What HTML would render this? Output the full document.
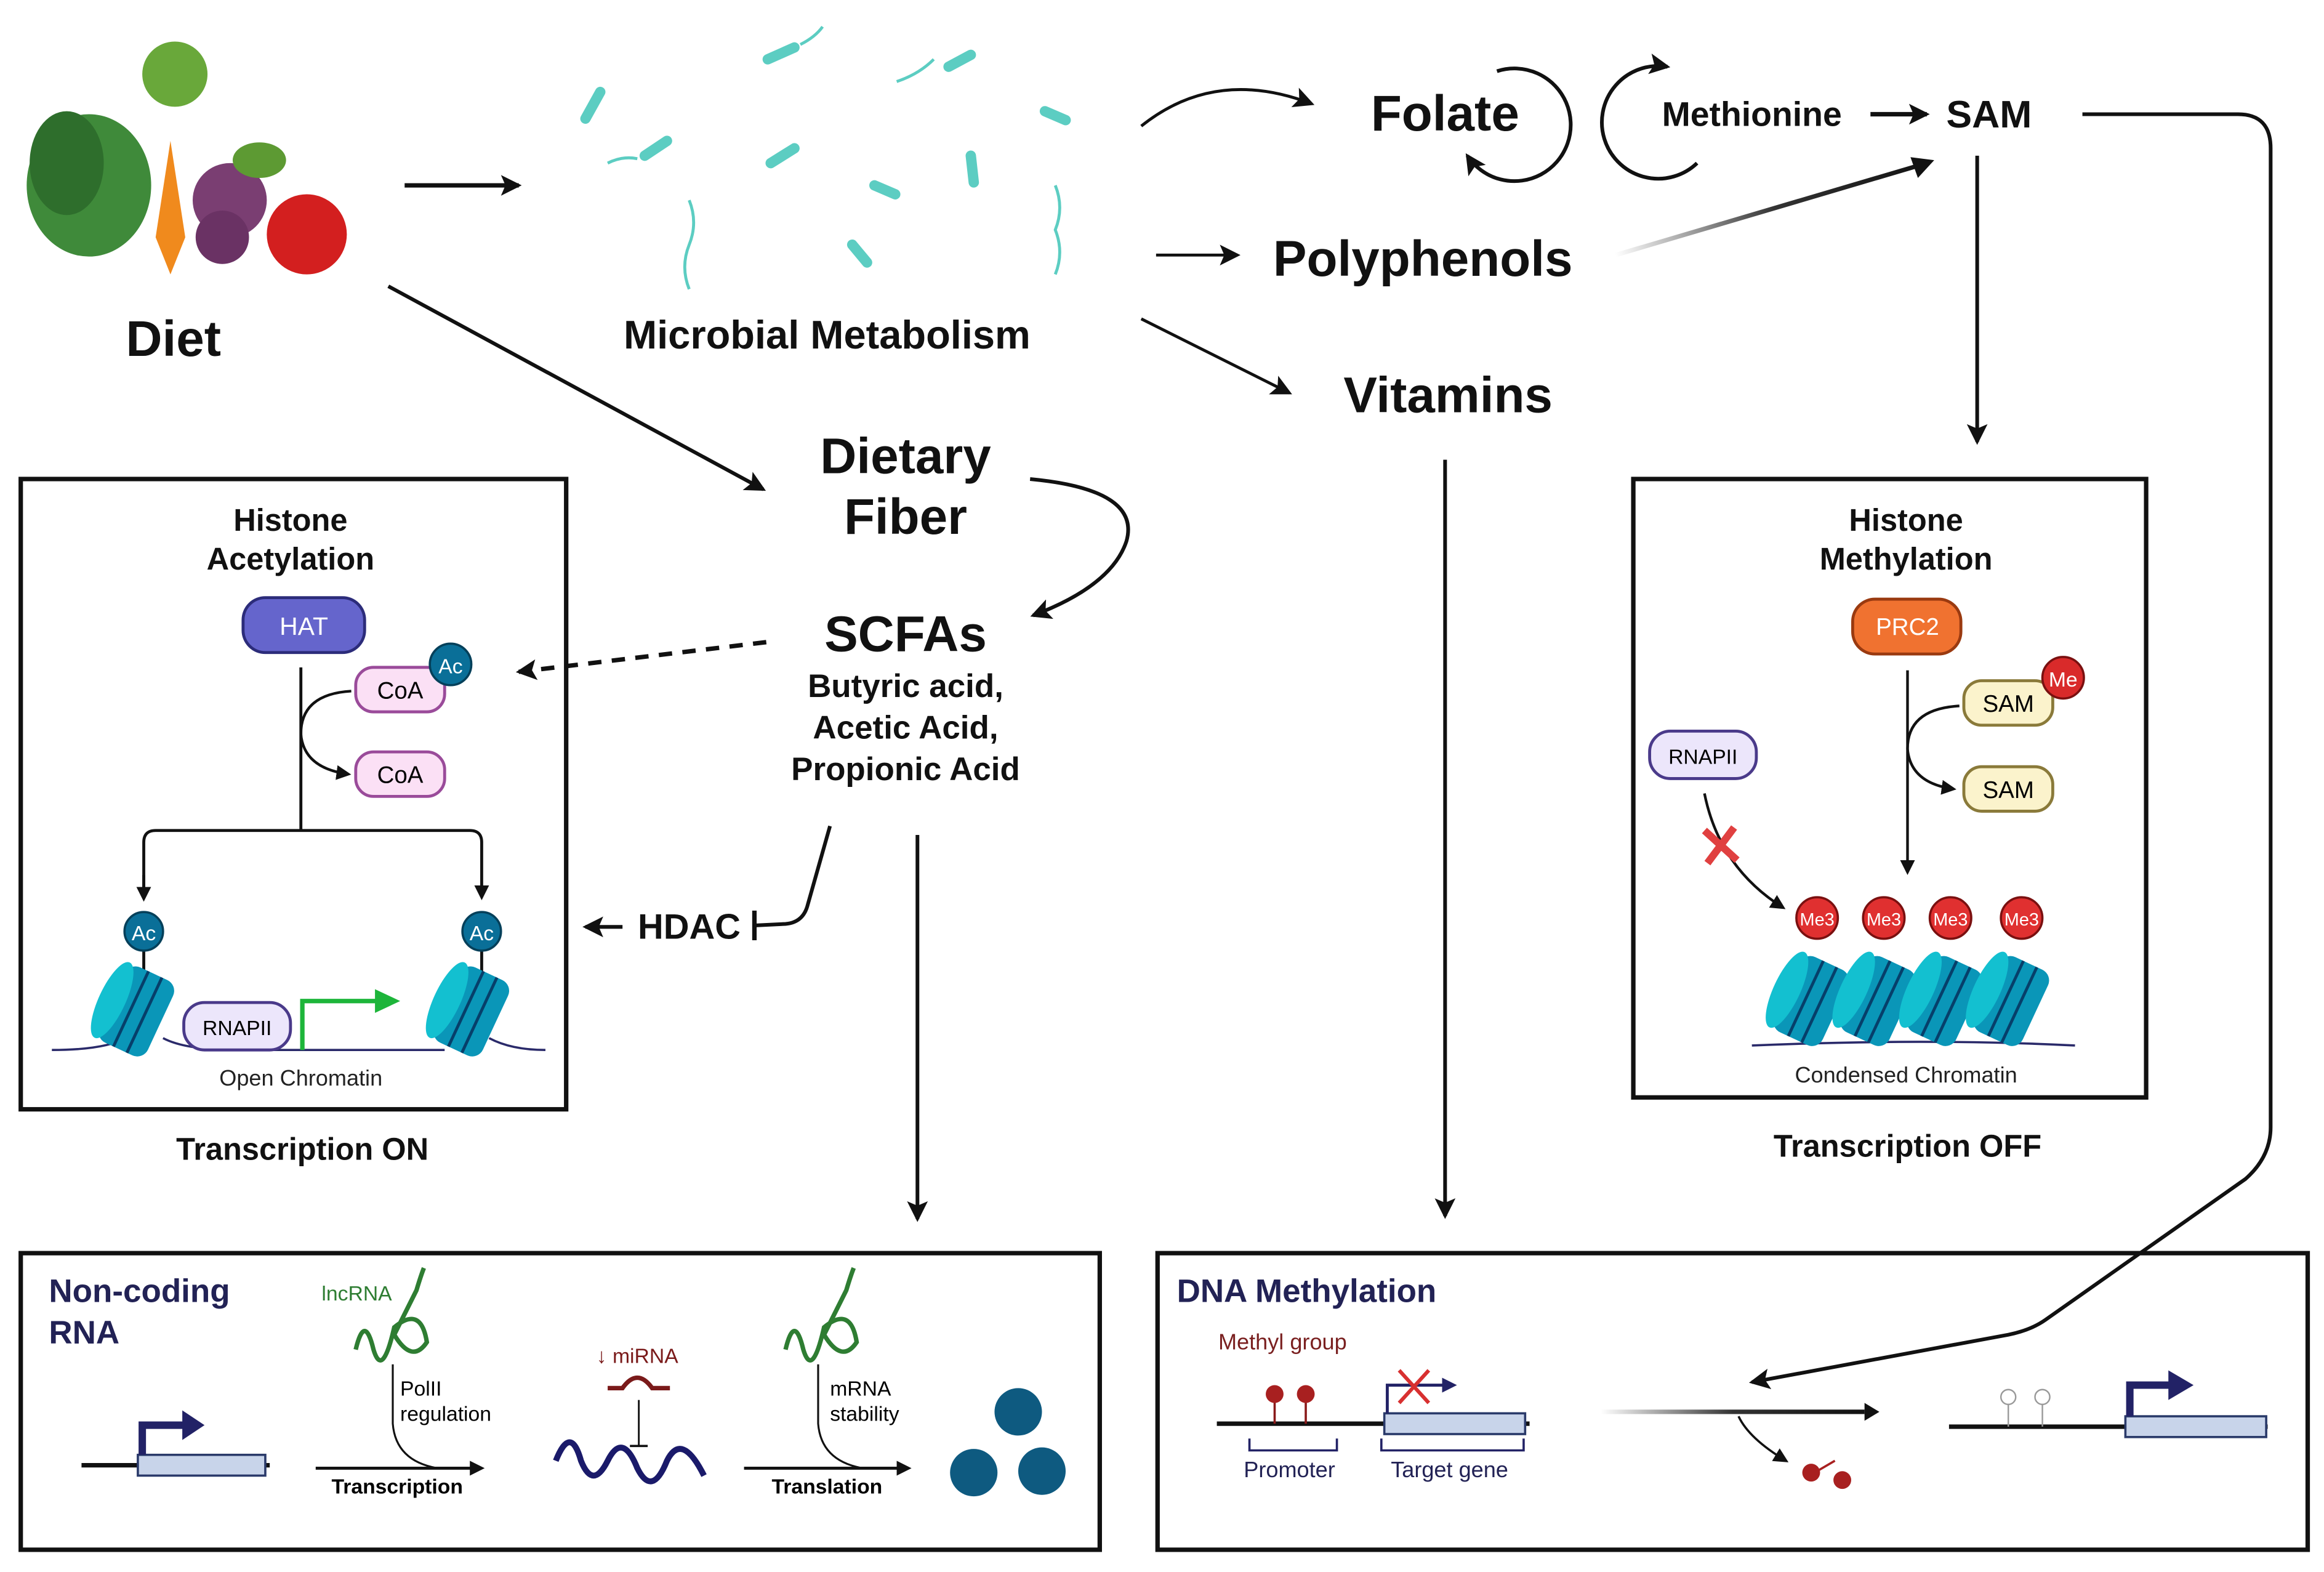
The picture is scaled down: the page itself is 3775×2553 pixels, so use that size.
<!DOCTYPE html>
<html><head><meta charset="utf-8"><style>
html,body{margin:0;padding:0;background:#fff}
svg{display:block}
text{font-family:"Liberation Sans",sans-serif}
.b{font-weight:bold;fill:#111}
</style></head><body>
<svg width="3775" height="2553" viewBox="0 0 1568 1060" preserveAspectRatio="none" xmlns="http://www.w3.org/2000/svg">
<defs>
<marker id="a" markerWidth="10" markerHeight="10" refX="8" refY="5" orient="auto" markerUnits="userSpaceOnUse"><path d="M0,0 L10,5 L0,10 Z" fill="#111"/></marker>
<marker id="as" markerWidth="14" markerHeight="14" refX="12" refY="7" orient="auto" markerUnits="userSpaceOnUse"><path d="M0,0 L14,7 L0,14 L3,7 Z" fill="#111"/></marker>
<linearGradient id="g1" gradientUnits="userSpaceOnUse" x1="1090" y1="172" x2="1305" y2="108"><stop offset="0" stop-color="#fff"/><stop offset="0.5" stop-color="#333"/><stop offset="1" stop-color="#111"/></linearGradient>
<linearGradient id="g2" gradientUnits="userSpaceOnUse" x1="1080" y1="952" x2="1258" y2="952"><stop offset="0" stop-color="#fff"/><stop offset="0.5" stop-color="#333"/><stop offset="1" stop-color="#111"/></linearGradient>
<g id="nuc"><g transform="rotate(25)"><rect x="-18" y="-28" width="36" height="56" rx="8" fill="#0a96b8"/><ellipse cx="-18" cy="0" rx="9" ry="28" fill="#13c0d0"/><line x1="-4" y1="-28" x2="-4" y2="28" stroke="#063f6a" stroke-width="2"/><line x1="6" y1="-28" x2="6" y2="28" stroke="#063f6a" stroke-width="2"/></g></g>
</defs>

<ellipse cx="60" cy="125" rx="42" ry="48" fill="#3f8a3a"/>
<ellipse cx="45" cy="110" rx="25" ry="35" fill="#2e6e2c"/>
<path d="M115,95 L105,160 L115,185 L125,160 Z" fill="#f08a1d"/>
<circle cx="118" cy="50" r="22" fill="#69a83a"/>
<circle cx="155" cy="135" r="25" fill="#7a3e72"/>
<circle cx="150" cy="160" r="18" fill="#6a3264"/>
<ellipse cx="175" cy="108" rx="18" ry="12" fill="#5d9a33"/>
<circle cx="207" cy="158" r="27" fill="#d31f1f"/>
<text x="117" y="240" class="b" font-size="34" text-anchor="middle">Diet</text>
<line x1="273" y1="125" x2="350" y2="125" stroke="#111" stroke-width="3" marker-end="url(#as)"/>

<g stroke="#5ccdc2" stroke-width="7" stroke-linecap="round" fill="none">
<path d="M395,80 l10,-18"/><path d="M435,105 l15,-10"/><path d="M518,40 l18,-8"/><path d="M520,110 l16,-10"/><path d="M590,125 l14,6"/><path d="M655,105 l2,18"/><path d="M705,75 l14,6"/><path d="M575,165 l10,12"/><path d="M640,45 l15,-8"/>
</g>
<g stroke="#5ccdc2" stroke-width="2" fill="none">
<path d="M465,135 q6,15 0,30 q-6,15 0,30"/><path d="M712,125 q6,15 0,30 q6,15 0,30"/><path d="M605,55 q15,-5 25,-15"/><path d="M540,30 q10,-5 15,-12"/><path d="M410,110 q10,-5 20,-3"/>
</g>
<text x="558" y="235" class="b" font-size="27" text-anchor="middle">Microbial Metabolism</text>

<path d="M770,85 Q820,45 885,70" stroke="#111" stroke-width="2" fill="none" marker-end="url(#as)"/>
<text x="975" y="88" class="b" font-size="34" text-anchor="middle">Folate</text>
<path d="M1010,48 A38,38 0 1 1 990,105" stroke="#111" stroke-width="2.5" fill="none" marker-end="url(#as)"/>
<path d="M1145,110 A38,38 0 1 1 1125,45" stroke="#111" stroke-width="2.5" fill="none" marker-end="url(#as)"/>
<text x="1182" y="85" class="b" font-size="23" text-anchor="middle">Methionine</text>
<line x1="1262" y1="77" x2="1300" y2="77" stroke="#111" stroke-width="3" marker-end="url(#as)"/>
<text x="1342" y="86" class="b" font-size="26" text-anchor="middle">SAM</text>
<path d="M1405,77 L1510,77 Q1532,77 1532,100 L1532,760 Q1532,780 1515,795 L1380,890 Q1370,897 1355,900 L1182,932" stroke="#111" stroke-width="2.5" fill="none" marker-end="url(#as)"/>
<line x1="780" y1="172" x2="835" y2="172" stroke="#111" stroke-width="2" marker-end="url(#as)"/>
<text x="960" y="186" class="b" font-size="34" text-anchor="middle">Polyphenols</text>
<line x1="1090" y1="172" x2="1300" y2="110" stroke="url(#g1)" stroke-width="3"/>
<path d="M1305,108 l-16,-2 l5,14 Z" fill="#111"/>
<line x1="770" y1="215" x2="870" y2="265" stroke="#111" stroke-width="2" marker-end="url(#as)"/>
<text x="977" y="278" class="b" font-size="34" text-anchor="middle">Vitamins</text>
<line x1="975" y1="310" x2="975" y2="820" stroke="#111" stroke-width="2.5" marker-end="url(#as)"/>
<line x1="1334" y1="105" x2="1334" y2="298" stroke="#111" stroke-width="2.5" marker-end="url(#as)"/>

<line x1="262" y1="193" x2="515" y2="330" stroke="#111" stroke-width="2.5" marker-end="url(#as)"/>
<text x="611" y="319" class="b" font-size="34" text-anchor="middle">Dietary</text>
<text x="611" y="360" class="b" font-size="34" text-anchor="middle">Fiber</text>
<path d="M695,323 Q770,330 760,365 Q750,395 697,415" stroke="#111" stroke-width="2.5" fill="none" marker-end="url(#as)"/>
<text x="611" y="439" class="b" font-size="34" text-anchor="middle">SCFAs</text>
<text x="611" y="470" class="b" font-size="22" text-anchor="middle">Butyric acid,</text>
<text x="611" y="498" class="b" font-size="22" text-anchor="middle">Acetic Acid,</text>
<text x="611" y="526" class="b" font-size="22" text-anchor="middle">Propionic Acid</text>
<line x1="517" y1="433" x2="350" y2="453" stroke="#111" stroke-width="3" stroke-dasharray="9,7" marker-end="url(#as)"/>
<path d="M560,557 L545,610 Q542,622 530,623 L510,624" stroke="#111" stroke-width="2.5" fill="none"/>
<line x1="509" y1="614" x2="509" y2="634" stroke="#111" stroke-width="3"/>
<text x="465" y="633" class="b" font-size="24" text-anchor="middle">HDAC</text>
<line x1="420" y1="625" x2="395" y2="625" stroke="#111" stroke-width="2.5" marker-end="url(#as)"/>
<line x1="619" y1="563" x2="619" y2="822" stroke="#111" stroke-width="2.5" marker-end="url(#as)"/>

<rect x="14" y="323" width="368" height="425" fill="none" stroke="#111" stroke-width="3"/>
<text x="196" y="358" class="b" font-size="21" text-anchor="middle">Histone</text>
<text x="196" y="384" class="b" font-size="21" text-anchor="middle">Acetylation</text>
<rect x="164" y="403" width="82" height="37" rx="15" fill="#6565cc" stroke="#2c2c7a" stroke-width="2"/>
<text x="205" y="428" font-size="17" fill="#fff" text-anchor="middle">HAT</text>
<line x1="203" y1="450" x2="203" y2="560" stroke="#111" stroke-width="2"/>
<rect x="240" y="450" width="60" height="30" rx="12" fill="#fbe0f5" stroke="#9a4b9a" stroke-width="2"/>
<text x="270" y="471" font-size="16" text-anchor="middle">CoA</text>
<circle cx="304" cy="448" r="14" fill="#0a6f98" stroke="#05405a" stroke-width="1.5"/>
<text x="304" y="454" font-size="14" fill="#fff" text-anchor="middle">Ac</text>
<rect x="240" y="507" width="60" height="30" rx="12" fill="#fbe0f5" stroke="#9a4b9a" stroke-width="2"/>
<text x="270" y="528" font-size="16" text-anchor="middle">CoA</text>
<path d="M237,466 Q203,468 203,495 Q205,518 235,522" stroke="#111" stroke-width="1.8" fill="none" marker-end="url(#a)"/>
<path d="M97,605 L97,568 Q97,560 105,560 L317,560 Q325,560 325,568 L325,605" stroke="#111" stroke-width="2" fill="none" marker-end="url(#a)"/>
<line x1="97" y1="590" x2="97" y2="606" stroke="#111" stroke-width="2" marker-end="url(#a)"/>
<path d="M35,708 Q70,708 85,700 M110,700 Q125,708 160,708 L300,708 M330,700 Q345,708 368,708" stroke="#2a2a6a" stroke-width="1.5" fill="none"/>
<line x1="97" y1="640" x2="97" y2="665" stroke="#111" stroke-width="2"/>
<line x1="325" y1="640" x2="325" y2="665" stroke="#111" stroke-width="2"/>
<use href="#nuc" x="92" y="682"/>
<use href="#nuc" x="318" y="682"/>
<circle cx="97" cy="628" r="13" fill="#0a6f98" stroke="#05405a" stroke-width="1.5"/>
<text x="97" y="634" font-size="14" fill="#fff" text-anchor="middle">Ac</text>
<circle cx="325" cy="628" r="13" fill="#0a6f98" stroke="#05405a" stroke-width="1.5"/>
<text x="325" y="634" font-size="14" fill="#fff" text-anchor="middle">Ac</text>
<rect x="124" y="676" width="72" height="32" rx="14" fill="#ece6fb" stroke="#4a3a8a" stroke-width="2"/>
<text x="160" y="698" font-size="14" text-anchor="middle">RNAPII</text>
<path d="M204,708 L204,675 L255,675" stroke="#1db53a" stroke-width="3" fill="none"/>
<path d="M253,667 L270,675 L253,683 Z" fill="#1db53a"/>
<text x="203" y="732" font-size="15" fill="#222" text-anchor="middle">Open Chromatin</text>
<text x="204" y="782" class="b" font-size="21" text-anchor="middle">Transcription ON</text>

<rect x="1102" y="323" width="346" height="417" fill="none" stroke="#111" stroke-width="3"/>
<text x="1286" y="358" class="b" font-size="21" text-anchor="middle">Histone</text>
<text x="1286" y="384" class="b" font-size="21" text-anchor="middle">Methylation</text>
<rect x="1250" y="404" width="73" height="37" rx="15" fill="#f07230" stroke="#9a3a10" stroke-width="2"/>
<text x="1287" y="428" font-size="16" fill="#fff" text-anchor="middle">PRC2</text>
<line x1="1287" y1="452" x2="1287" y2="588" stroke="#111" stroke-width="1.8" marker-end="url(#a)"/>
<rect x="1325" y="459" width="60" height="30" rx="12" fill="#fbf3cc" stroke="#8a7a3a" stroke-width="2"/>
<text x="1355" y="480" font-size="16" text-anchor="middle">SAM</text>
<circle cx="1392" cy="457" r="14" fill="#d92a2a" stroke="#7a1010" stroke-width="1.5"/>
<text x="1392" y="463" font-size="14" fill="#fff" text-anchor="middle">Me</text>
<rect x="1325" y="517" width="60" height="30" rx="12" fill="#fbf3cc" stroke="#8a7a3a" stroke-width="2"/>
<text x="1355" y="538" font-size="16" text-anchor="middle">SAM</text>
<path d="M1322,476 Q1287,478 1287,505 Q1289,528 1318,532" stroke="#111" stroke-width="1.8" fill="none" marker-end="url(#a)"/>
<rect x="1113" y="493" width="72" height="32" rx="14" fill="#ece6fb" stroke="#4a3a8a" stroke-width="2"/>
<text x="1149" y="515" font-size="14" text-anchor="middle">RNAPII</text>
<path d="M1150,535 Q1160,585 1203,612" stroke="#111" stroke-width="1.8" fill="none" marker-end="url(#a)"/>
<path d="M1150,560 L1172,580 M1170,558 L1152,582" stroke="#e04040" stroke-width="5"/>
<path d="M1182,705 Q1300,700 1400,705" stroke="#2a2a6a" stroke-width="1.5" fill="none"/>
<use href="#nuc" x="1222" y="675"/><use href="#nuc" x="1267" y="675"/><use href="#nuc" x="1312" y="675"/><use href="#nuc" x="1357" y="675"/>
<g fill="#e03030" stroke="#7a1010" stroke-width="1.5">
<circle cx="1226" cy="619" r="14"/><circle cx="1271" cy="619" r="14"/><circle cx="1316" cy="619" r="14"/><circle cx="1364" cy="619" r="14"/></g>
<g font-size="12" fill="#fff" text-anchor="middle"><text x="1226" y="624">Me3</text><text x="1271" y="624">Me3</text><text x="1316" y="624">Me3</text><text x="1364" y="624">Me3</text></g>
<text x="1286" y="730" font-size="15" fill="#222" text-anchor="middle">Condensed Chromatin</text>
<text x="1287" y="780" class="b" font-size="21" text-anchor="middle">Transcription OFF</text>

<rect x="14" y="845" width="728" height="200" fill="none" stroke="#111" stroke-width="3"/>
<text x="33" y="878" font-size="22" font-weight="bold" fill="#222255">Non-coding</text>
<text x="33" y="906" font-size="22" font-weight="bold" fill="#222255">RNA</text>
<line x1="55" y1="988" x2="182" y2="988" stroke="#111" stroke-width="3"/>
<rect x="93" y="981" width="86" height="14" fill="#c8d4ea" stroke="#2a3a6a" stroke-width="1.5"/>
<path d="M96,981 L96,961 L125,961" stroke="#222266" stroke-width="5" fill="none"/>
<path d="M123,951 L138,961 L123,971 Z" fill="#222266"/>
<text x="217" y="877" font-size="14" fill="#2e7d32">lncRNA</text>
<path d="M240,910 q6,-25 12,0 q6,20 14,-15 q18,-15 22,10 q-10,15 -22,-5 q10,-20 15,-30 q3,-10 5,-15" stroke="#2e7d32" stroke-width="3" fill="none"/>
<path d="M265,920 L265,960 Q267,985 295,990" stroke="#111" stroke-width="1.3" fill="none"/>
<text x="270" y="941" font-size="14">PolII</text><text x="270" y="958" font-size="14">regulation</text>
<line x1="213" y1="990" x2="325" y2="990" stroke="#111" stroke-width="2" marker-end="url(#a)"/>
<text x="268" y="1007" font-size="14" font-weight="bold" text-anchor="middle">Transcription</text>
<text x="430" y="919" font-size="14" fill="#7a1a1a" text-anchor="middle">↓ miRNA</text>
<path d="M410,936 L420,936 Q430,922 440,936 L452,936" stroke="#7a1a1a" stroke-width="3" fill="none"/>
<line x1="431" y1="944" x2="431" y2="975" stroke="#111" stroke-width="1.2"/>
<line x1="425" y1="975" x2="437" y2="975" stroke="#111" stroke-width="1.5"/>
<path d="M375,985 Q385,960 392,985 Q400,1005 410,985 Q420,965 430,990 Q440,1010 450,985 Q460,965 475,995" stroke="#1a1a6a" stroke-width="4" fill="none"/>
<path d="M530,910 q6,-25 12,0 q6,20 14,-15 q18,-15 22,10 q-10,15 -22,-5 q10,-20 15,-30 q3,-10 5,-15" stroke="#2e7d32" stroke-width="3" fill="none"/>
<path d="M552,920 L552,960 Q554,985 582,990" stroke="#111" stroke-width="1.3" fill="none"/>
<text x="560" y="941" font-size="14">mRNA</text><text x="560" y="958" font-size="14">stability</text>
<line x1="502" y1="990" x2="613" y2="990" stroke="#111" stroke-width="2" marker-end="url(#a)"/>
<text x="558" y="1007" font-size="14" font-weight="bold" text-anchor="middle">Translation</text>
<g fill="#0e5a80"><circle cx="687" cy="952" r="16"/><circle cx="657" cy="993" r="16"/><circle cx="703" cy="992" r="16"/></g>

<rect x="781" y="845" width="776" height="200" fill="none" stroke="#111" stroke-width="3"/>
<text x="794" y="878" font-size="22" font-weight="bold" fill="#222255">DNA Methylation</text>
<text x="822" y="910" font-size="15" fill="#7a2020">Methyl group</text>
<line x1="821" y1="960" x2="1032" y2="960" stroke="#111" stroke-width="3"/>
<line x1="860" y1="942" x2="860" y2="960" stroke="#8a1a1a" stroke-width="1.5"/><line x1="881" y1="942" x2="881" y2="960" stroke="#8a1a1a" stroke-width="1.5"/>
<circle cx="860" cy="940" r="6" fill="#a82020"/><circle cx="881" cy="940" r="6" fill="#a82020"/>
<rect x="934" y="953" width="95" height="14" fill="#c8d4ea" stroke="#2a3a6a" stroke-width="1.5"/>
<path d="M936,953 L936,934 L975,934" stroke="#222266" stroke-width="2" fill="none"/>
<path d="M973,929 L983,934 L973,939 Z" fill="#222266"/>
<path d="M944,924 L964,946 M964,924 L944,946" stroke="#d83030" stroke-width="2.5"/>
<path d="M843,970 L843,978 L902,978 L902,970 M932,970 L932,978 L1028,978 L1028,970" stroke="#222266" stroke-width="1.5" fill="none"/>
<text x="870" y="996" font-size="15" fill="#222255" text-anchor="middle">Promoter</text>
<text x="978" y="996" font-size="15" fill="#222255" text-anchor="middle">Target gene</text>
<line x1="1080" y1="952" x2="1258" y2="952" stroke="url(#g2)" stroke-width="3"/>
<path d="M1258,946 L1268,952 L1258,958 Z" fill="#111"/>
<path d="M1173,955 Q1180,970 1205,985" stroke="#111" stroke-width="1.5" fill="none" marker-end="url(#a)"/>
<circle cx="1222" cy="993" r="6" fill="#a82020"/><circle cx="1243" cy="998" r="6" fill="#a82020"/>
<line x1="1226" y1="992" x2="1238" y2="985" stroke="#a82020" stroke-width="1.5"/>
<line x1="1315" y1="962" x2="1530" y2="962" stroke="#111" stroke-width="3"/>
<line x1="1355" y1="945" x2="1355" y2="962" stroke="#999" stroke-width="1"/><line x1="1378" y1="945" x2="1378" y2="962" stroke="#999" stroke-width="1"/>
<circle cx="1355" cy="942" r="5" fill="#fff" stroke="#999"/><circle cx="1378" cy="942" r="5" fill="#fff" stroke="#999"/>
<rect x="1434" y="955" width="95" height="14" fill="#c8d4ea" stroke="#2a3a6a" stroke-width="1.5"/>
<path d="M1437,955 L1437,934 L1465,934" stroke="#222266" stroke-width="5" fill="none"/>
<path d="M1463,924 L1480,934 L1463,944 Z" fill="#222266"/>
</svg>
</body></html>
